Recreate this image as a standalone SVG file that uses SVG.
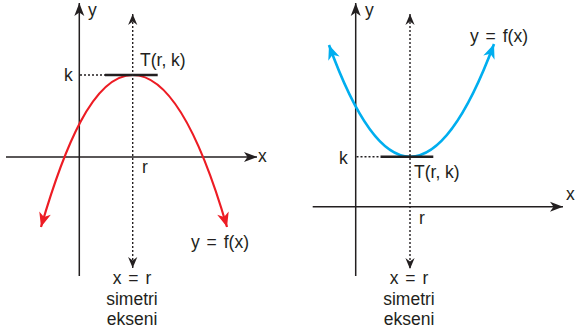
<svg xmlns="http://www.w3.org/2000/svg" width="576" height="336" viewBox="0 0 576 336">
<style>
text{font-family:"Liberation Sans",Arial,Helvetica,sans-serif;font-size:17.5px;fill:#231f20}
.mid{text-anchor:middle}
.eq{word-spacing:2px}
.axis{stroke:#231f20;stroke-width:1.5;fill:none}
.dot{stroke:#231f20;stroke-width:1.4;stroke-dasharray:2 2;fill:none}
.tan{stroke:#231f20;stroke-width:2.6;fill:none}
.red{stroke:#ed1c24;stroke-width:2.2;fill:none}
.blue{stroke:#00aeef;stroke-width:2.6;fill:none}
</style>
<defs>
<marker id="ah" viewBox="-13 -6 14 12" refX="0" refY="0" markerWidth="14" markerHeight="12" markerUnits="userSpaceOnUse" orient="auto-start-reverse">
<path d="M0,0 L-13,-5 L-9.5,0 L-13,5 Z" fill="#231f20"/>
</marker>
<marker id="ahs" viewBox="-12 -6 13 12" refX="0" refY="0" markerWidth="13" markerHeight="12" markerUnits="userSpaceOnUse" orient="auto-start-reverse">
<path d="M0,0 L-11,-4.6 L-7.5,0 L-11,4.6 Z" fill="#231f20"/>
</marker>
<marker id="ahr" viewBox="-15 -7 16 14" refX="0" refY="0" markerWidth="16" markerHeight="14" markerUnits="userSpaceOnUse" orient="auto-start-reverse">
<path d="M0,0 L-14.5,-6 L-10.5,0 L-14.5,6 Z" fill="#ed1c24"/>
</marker>
<marker id="ahb" viewBox="-15 -7 16 14" refX="0" refY="0" markerWidth="16" markerHeight="14" markerUnits="userSpaceOnUse" orient="auto-start-reverse">
<path d="M0,0 L-14.5,-6 L-10.5,0 L-14.5,6 Z" fill="#00aeef"/>
</marker>
</defs>

<g id="left-graph">
<g id="left-axes">
<line class="axis" x1="79.3" y1="276" x2="79.3" y2="3" marker-end="url(#ah)"/>
<line class="axis" x1="6" y1="157" x2="257" y2="157" marker-end="url(#ah)"/>
<text x="88" y="16">y</text>
<text x="258" y="162">x</text>
</g>
<g id="left-curve">
<path class="red" d="M41,227 C63.4,150.2 92.7,75 132.7,75 C172.7,75 204.6,150.2 227,227" marker-start="url(#ahr)" marker-end="url(#ahr)"/>
<text x="191" y="248" class="eq">y = f(x)</text>
</g>
<g id="left-vertex">
<line class="tan" x1="105" y1="75" x2="157.7" y2="75"/>
<line class="dot" x1="80" y1="75" x2="105" y2="75"/>
<text x="64" y="81">k</text>
<text x="140" y="66">T(r, k)</text>
<text x="142" y="173">r</text>
</g>
<g id="left-symmetry">
<line class="dot" x1="132.7" y1="14" x2="132.7" y2="268" marker-start="url(#ahs)" marker-end="url(#ahs)"/>
<text x="132" y="284" class="mid eq">x = r</text>
<text x="132" y="305" class="mid">simetri</text>
<text x="132" y="325" class="mid">ekseni</text>
</g>
</g>

<g id="right-graph">
<g id="right-axes">
<line class="axis" x1="355.7" y1="276" x2="355.7" y2="3" marker-end="url(#ah)"/>
<line class="axis" x1="312.7" y1="206.7" x2="563" y2="206.7" marker-end="url(#ah)"/>
<text x="365" y="16">y</text>
<text x="566" y="200">x</text>
</g>
<g id="right-curve">
<path class="blue" d="M329,45 Q369.5,156.7 410,156.7 Q452,156.7 494,44" marker-start="url(#ahb)" marker-end="url(#ahb)"/>
<text x="470" y="42" class="eq">y = f(x)</text>
</g>
<g id="right-vertex">
<line class="tan" x1="380.5" y1="156.7" x2="433.3" y2="156.7"/>
<line class="dot" x1="356.5" y1="156.7" x2="380.5" y2="156.7"/>
<text x="339" y="164">k</text>
<text x="414" y="178">T(r, k)</text>
<text x="419" y="224">r</text>
</g>
<g id="right-symmetry">
<line class="dot" x1="410" y1="14" x2="410" y2="269" marker-start="url(#ahs)" marker-end="url(#ahs)"/>
<text x="409" y="284" class="mid eq">x = r</text>
<text x="409" y="305" class="mid">simetri</text>
<text x="409" y="325" class="mid">ekseni</text>
</g>
</g>
</svg>
